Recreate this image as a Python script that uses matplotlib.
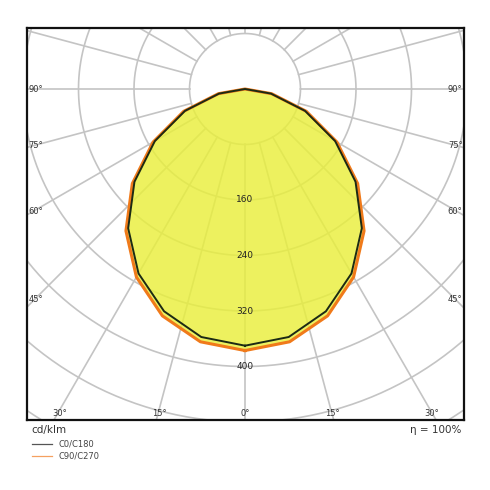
import numpy as np
import matplotlib
matplotlib.use("Agg")
import matplotlib.pyplot as plt

# luminous intensity (cd/klm) vs gamma
gamma = [0, 10, 20, 30, 40, 50, 60, 70, 80, 90]
c0_c180 = [370, 363, 341, 307, 262, 208, 150, 92, 38, 0]
c90_c270 = [377, 370, 348, 313, 267, 212, 153, 94, 39, 0]
ring_values = [80, 160, 240, 320, 400, 480, 560, 640, 720]
ring_labels = [160, 240, 320, 400]
series_names = ["C0/C180", "C90/C270"]

# pixel -> data scale: 80 cd/klm == 55.5 px
S = 55.5 / 80


def xy(g_deg, r):
    g = np.radians(g_deg)
    return r * np.sin(g), -r * np.cos(g)


fig = plt.figure(figsize=(4.9, 4.9), dpi=100)
ax = fig.add_axes([27 / 490, 70 / 490, 437 / 490, 392 / 490])
x0, x1 = (27 - 245) / S, (464 - 245) / S
y0, y1 = -(420 - 89) / S, (89 - 28) / S
ax.set_xlim(x0, x1)
ax.set_ylim(y0, y1)
ax.set_aspect("auto")
ax.set_xticks([])
ax.set_yticks([])
for s in ax.spines.values():
    s.set_linewidth(1.6)
    s.set_color("#111111")

# grid
grid_kw = dict(color="#c4c4c4", lw=1.2, zorder=1)
t = np.linspace(0, 2 * np.pi, 400)
for r in ring_values:
    ax.plot(r * np.cos(t), r * np.sin(t), **grid_kw)
for a in range(0, 360, 15):
    gx0, gy0 = xy(a, 80)
    gx1, gy1 = xy(a, 1000)
    ax.plot([gx0, gx1], [gy0, gy1], **grid_kw)

# curves, mirrored to both sides
def full(vals):
    g = np.array(gamma + [-v for v in gamma[::-1]][1:])
    r = np.array(vals + vals[::-1][1:])
    return xy(g, r)

ox, oy = full(c90_c270)
bx, by = full(c0_c180)
ax.fill(ox, oy, color="#e9ef3c", alpha=0.82, zorder=2, lw=0)
ax.plot(ox, oy, color="#f07a1a", lw=2.2, zorder=3)
ax.plot(bx, by, color="#1c2a14", lw=1.4, zorder=4)

for v in ring_labels:
    ax.text(0, -v, str(v), ha="center", va="center", fontsize=6.5,
            color="#222222", zorder=5)

# angle labels on the frame
side = [("90°", 89), ("75°", 146), ("60°", 211), ("45°", 300)]
for lab, py in side:
    yy = (89 - py) / S
    ax.text(x0 + 2, yy, lab, ha="left", va="center", fontsize=6, color="#333333", zorder=5)
    ax.text(x1 - 2, yy, lab, ha="right", va="center", fontsize=6, color="#333333", zorder=5)
bottom = [("30°", 60), ("15°", 159), ("0°", 245), ("15°", 332), ("30°", 432)]
for lab, px in bottom:
    ax.text((px - 245) / S, y0 + 10, lab, ha="center", va="center", fontsize=6,
            color="#333333", zorder=5)

fig.text(31 / 490, 1 - 430 / 490, "cd/klm", fontsize=7.5, va="center", color="#333333")
fig.text(461 / 490, 1 - 430 / 490, "η = 100%", fontsize=7.5, va="center", ha="right", color="#333333")
for i, (name, col) in enumerate(zip(series_names, ["#555555", "#f5a060"])):
    yy = 1 - (444 + 12 * i) / 490
    fig.add_artist(plt.Line2D([32 / 490, 52 / 490], [yy, yy], color=col, lw=0.9))
    fig.text(58 / 490, yy, name, fontsize=6, va="center", color="#444444")

fig.savefig("out.png", dpi=100)
